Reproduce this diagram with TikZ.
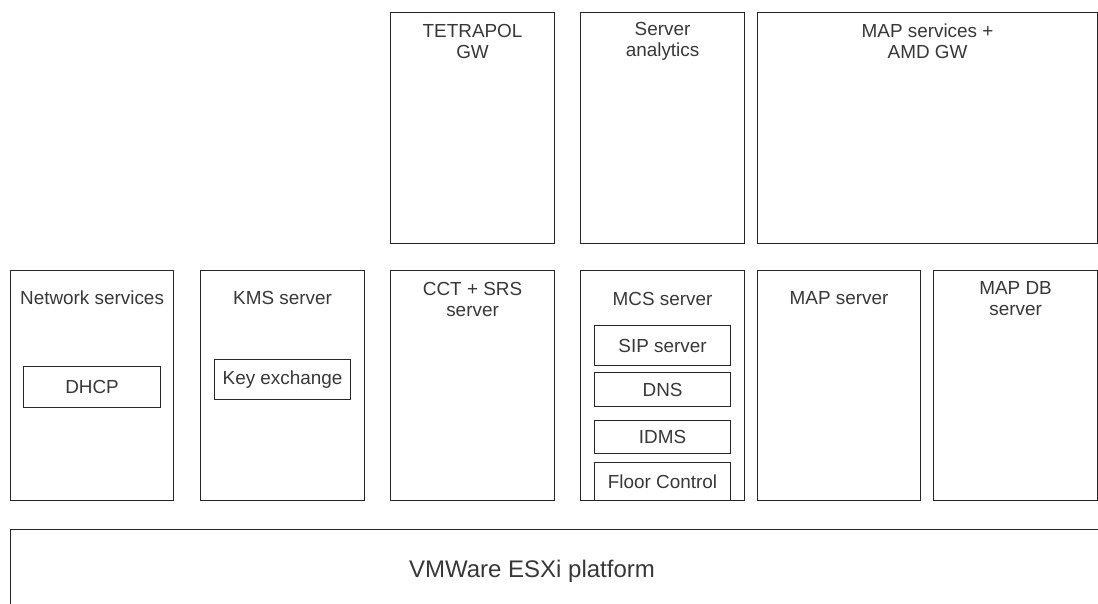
\documentclass[tikz,border=0pt]{standalone}
\usepackage{fontspec}
\setmainfont{Liberation Sans}
\begin{document}
\begin{tikzpicture}[x=1pt,y=-1pt,
  box/.style={draw=black!85,line width=1.1pt,fill=white,inner sep=0pt,anchor=north west},
  lbl/.style={text=black!78,font=\fontsize{18.9}{21}\selectfont,align=center,inner sep=0pt},
  big/.style={text=black!78,font=\fontsize{24}{28}\selectfont,inner sep=0pt}]
\useasboundingbox (0,0) rectangle (1098,603);
\clip (0,0) rectangle (1098,603);

% a server box: name, left, top, right, bottom
\newcommand\srvbox[5]{%
  \node[box,minimum width=#4-#2,minimum height=#5-#3] (#1) at (#2,#3) {};}

% upper row
\srvbox{tetra}{390}{12}{554}{243}
\srvbox{analytics}{580}{12}{744}{243}
\srvbox{mapsvc}{757}{12}{1097}{243}

% lower row
\srvbox{net}{10}{270}{173}{500}
\srvbox{kms}{200}{270}{364}{500}
\srvbox{cct}{390}{270}{554}{500}
\srvbox{mcs}{580}{270}{744}{500}
\srvbox{map}{757}{270}{920}{500}
\srvbox{mapdb}{933}{270}{1097}{500}

% services inside the servers
\srvbox{dhcp}{23}{366}{160}{407}
\srvbox{keyx}{214}{359}{350}{399}
\srvbox{sip}{594}{325}{730}{365}
\srvbox{dns}{594}{372}{730}{406}
\srvbox{idms}{594}{420}{730}{453}
\srvbox{floor}{594}{462}{730}{500}

% server titles
\path (tetra.north) ++(0,29) node[lbl] (tetraT) {TETRAPOL\\GW};
\path (analytics.north) ++(0,29) node[lbl] (analyticsT) {Server\\analytics};
\path (mapsvc.north) ++(0,29) node[lbl] (mapsvcT) {MAP services +\\AMD GW};
\path (net.north) ++(0,28) node[lbl] (netT) {Network services};
\path (kms.north) ++(0,28) node[lbl] (kmsT) {KMS server};
\path (cct.north) ++(0,29) node[lbl] (cctT) {CCT + SRS\\server};
\path (mcs.north) ++(0,29) node[lbl] (mcsT) {MCS server};
\path (map.north) ++(0,28) node[lbl] (mapT) {MAP server};
\path (mapdb.north) ++(0,29) node[lbl] (mapdbT) {MAP DB\\server};

% service titles
\node[lbl] at (dhcp.center) {DHCP};
\node[lbl] at (keyx.center) {Key exchange};
\node[lbl] at (sip.center) {SIP server};
\node[lbl] at (dns.center) {DNS};
\node[lbl] at (idms.center) {IDMS};
\node[lbl] at (floor.center) {Floor Control};

% platform underneath, running past the lower and right edges
\node[box,minimum width=1120,minimum height=120] (esxi) at (10,529) {};
\node[big] (esxiT) at (532,571) {VMWare ESXi platform};
\end{tikzpicture}
\end{document}
